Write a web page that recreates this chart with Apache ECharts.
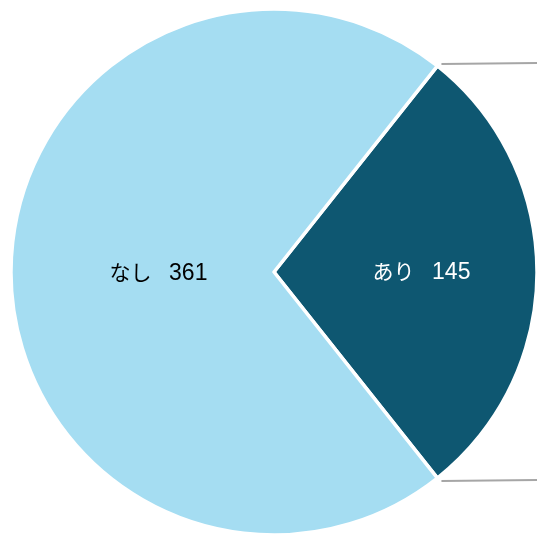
<!DOCTYPE html>
<html><head><meta charset="utf-8">
<script src="https://cdn.jsdelivr.net/npm/echarts@6/dist/echarts.min.js"></script>
<style>html,body{margin:0;padding:0;background:#fff}#c{width:537px;height:536px}</style>
</head><body><div id="c"></div>
<script>
const categories = ['あり', 'なし'];
const values = [145, 361];
const colors = ['#0e5771', '#a5ddf2'];
const labelColors = ['#ffffff', '#000000'];
const labelOffsets = [[13, 1], [19, 2]];

const cx = 274, cy = 272, R = 263;
const total = values.reduce((a, b) => a + b, 0);
const startAngle = 360 * values[0] / total / 2;

const chart = echarts.init(document.getElementById('c'));
const a1 = startAngle * Math.PI / 180;
const vTop = [cx + R * Math.cos(a1), cy - R * Math.sin(a1)];
const vBot = [cx + R * Math.cos(a1), cy + R * Math.sin(a1)];
const labelFont = '"Liberation Sans", Arial, "Noto Sans CJK JP", sans-serif';

chart.setOption({
  animation: false,
  series: [{
    type: 'pie',
    center: [cx, cy],
    radius: [0, R],
    startAngle: startAngle,
    clockwise: true,
    avoidLabelOverlap: false,
    labelLine: { show: false },
    emphasis: { disabled: true },
    itemStyle: { borderColor: '#ffffff', borderWidth: 3.5 },
    data: categories.map((c, i) => ({
      name: c,
      value: values[i],
      itemStyle: { color: colors[i] },
      label: {
        show: true, position: 'inside',
        formatter: '{n|{b}   }{v|{c}}',
        fontFamily: labelFont, color: labelColors[i], offset: labelOffsets[i],
        rich: {
          n: { fontSize: 21, fontFamily: labelFont, color: labelColors[i] },
          v: { fontSize: 23, fontFamily: labelFont, color: labelColors[i] }
        }
      }
    }))
  }],
  graphic: [
    { type: 'line', shape: { x1: vTop[0] + 4, y1: vTop[1] - 2, x2: 537, y2: vTop[1] - 3 },
      style: { stroke: '#a6a6a6', lineWidth: 2 } },
    { type: 'line', shape: { x1: vBot[0] + 4, y1: vBot[1] + 3, x2: 537, y2: vBot[1] + 2 },
      style: { stroke: '#a6a6a6', lineWidth: 2 } }
  ]
});
</script></body></html>
